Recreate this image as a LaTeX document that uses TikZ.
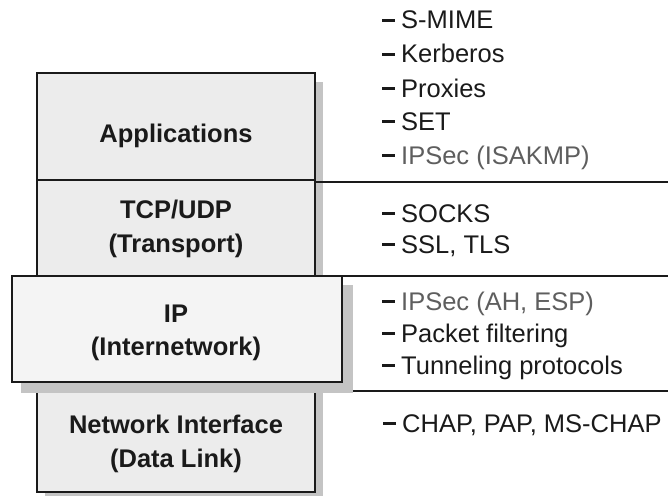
\documentclass[tikz,border=0pt]{standalone}
\usepackage{fontspec}
\setmainfont{Liberation Sans}
\definecolor{stackfill}{HTML}{ECECEC}
\definecolor{ipfill}{HTML}{F4F4F4}
\definecolor{shadowgray}{HTML}{C4C4C4}
\definecolor{ink}{HTML}{1A1A1A}
\definecolor{graytext}{HTML}{5E5E5E}
\newcommand{\itemdash}{\rule[7pt]{13pt}{3pt}\hspace{6pt}}
\begin{document}
\begin{tikzpicture}[x=1pt,y=-1pt,
  layertext/.style={anchor=base,inner sep=0pt,font=\fontsize{25.5}{30}\selectfont\bfseries,text=ink},
  itemtext/.style={anchor=base west,inner sep=0pt,font=\fontsize{25.5}{30}\selectfont,text=ink},
  grayitem/.style={itemtext,text=graytext},
  layerbox/.style={draw=ink,line width=1.5pt},
  divider/.style={draw=ink,line width=1.2pt}]
\useasboundingbox (0,0) rectangle (668,495);
% main stack
\fill[shadowgray] (45,82) rectangle (323,502);
\draw[layerbox,fill=stackfill] (37,73) rectangle (315,492);
\coordinate (appL) at (37,180);
\coordinate (appR) at (315,180);
\coordinate (appO) at (315,182);
\coordinate (appE) at (668,182);
\draw[divider] (appL) -- (appR);
\draw[divider] (appO) -- (appE);
\coordinate (niL) at (315,391);
\coordinate (niE) at (668,391);
\draw[divider] (niL) -- (niE);
% IP box
\fill[shadowgray] (21,285) rectangle (353,393);
\draw[layerbox,fill=ipfill] (12,276) rectangle (342,382);
\coordinate (ipR) at (342,276);
\coordinate (ipE) at (668,276);
\draw[divider] (ipR) -- (ipE);
% layer labels
\node[layertext] (app) at (176,142) {Applications};
\node[layertext] (tcp1) at (176,218) {TCP/UDP};
\node[layertext] (tcp2) at (176,252) {(Transport)};
\node[layertext] (ip1) at (176,322) {IP};
\node[layertext] (ip2) at (176,355) {(Internetwork)};
\node[layertext] (ni1) at (176,433) {Network Interface};
\node[layertext] (ni2) at (176,467) {(Data Link)};
% items
\node[itemtext] (r1) at (382,29) {\itemdash S-MIME};
\node[itemtext] (r2) at (382,63) {\itemdash Kerberos};
\node[itemtext] (r3) at (382,97) {\itemdash Proxies};
\node[itemtext] (r4) at (382,130) {\itemdash SET};
\node[grayitem] (r5) at (382,164) {{\color{ink}\itemdash}IPSec (ISAKMP)};
\node[itemtext] (r6) at (382,222) {\itemdash SOCKS};
\node[itemtext] (r7) at (382,253) {\itemdash SSL, TLS};
\node[grayitem] (r8) at (382,310) {{\color{ink}\itemdash}IPSec (AH, ESP)};
\node[itemtext] (r9) at (382,342) {\itemdash Packet filtering};
\node[itemtext] (r10) at (382,374) {\itemdash Tunneling protocols};
\node[itemtext] (r11) at (383,432) {\itemdash CHAP, PAP, MS-CHAP};
\end{tikzpicture}
\end{document}
